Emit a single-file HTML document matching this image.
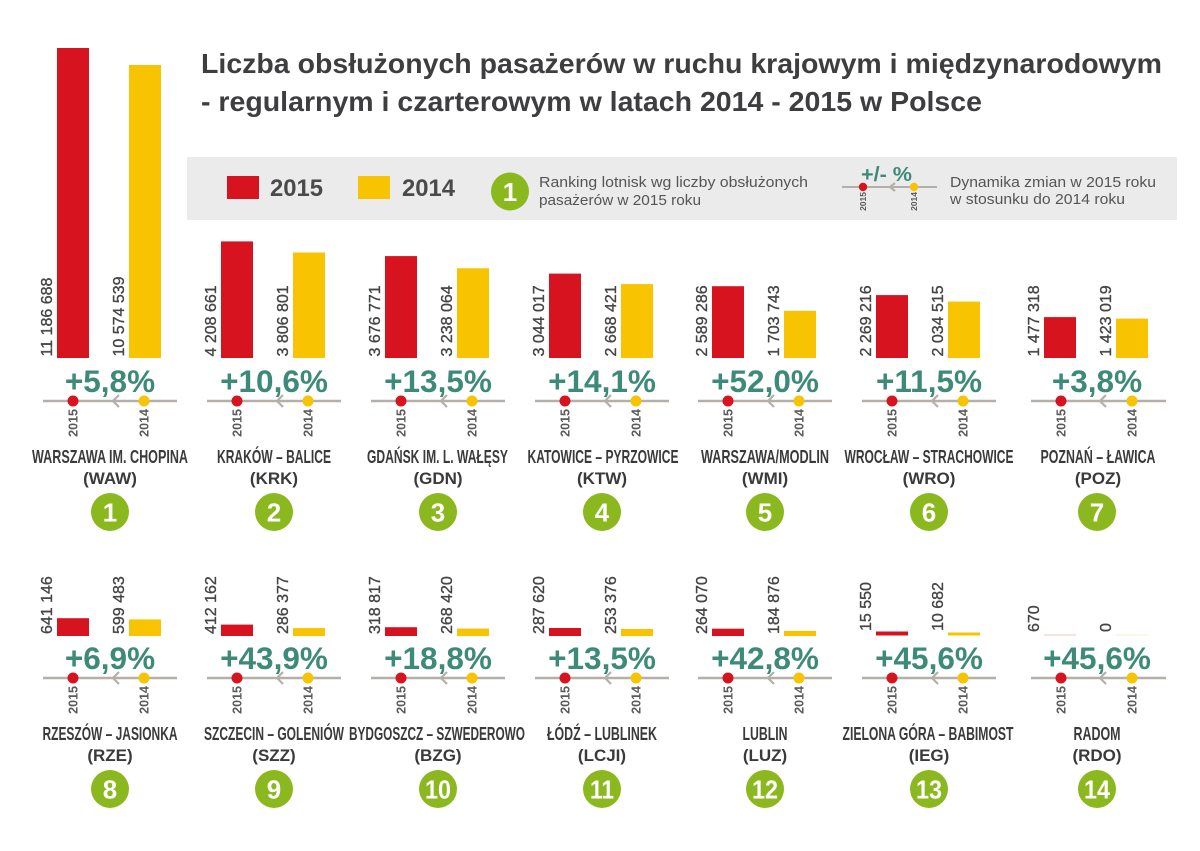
<!DOCTYPE html>
<html><head><meta charset="utf-8"><style>
html,body{margin:0;padding:0;background:#fff;}
svg{display:block;}
text{font-family:"Liberation Sans","Noto Sans CJK SC",sans-serif;}
.ttl{font-size:28px;font-weight:bold;fill:#3e3e41;}
.val{font-size:16px;fill:#454545;stroke:#454545;stroke-width:0.35;}
.pct{font-size:31.5px;font-weight:bold;fill:#3e8a79;text-anchor:middle;}
.yr{font-size:12.5px;font-weight:bold;fill:#5a5a5a;text-anchor:end;}
.nm{font-size:18px;font-weight:bold;fill:#3a3a3a;text-anchor:middle;}
.cd{font-size:17px;font-weight:bold;fill:#3a3a3a;text-anchor:middle;}
.num{font-size:26px;font-weight:bold;fill:#fff;text-anchor:middle;}
.lg{font-size:15px;fill:#555;}
.r{fill:#d7131f;} .y{fill:#f8c300;} .c{fill:#8cb81f;}
.ln{stroke:#b5afa9;stroke-width:2.5;}
.ch{stroke:#b5afa9;stroke-width:2.2;fill:none;stroke-linejoin:miter;}
</style></head><body>
<svg width="1200" height="851" viewBox="0 0 1200 851" xmlns="http://www.w3.org/2000/svg">
<rect width="1200" height="851" fill="#fff"/>
<!-- Title -->
<text class="ttl" x="201" y="73" textLength="961" lengthAdjust="spacingAndGlyphs">Liczba obsłużonych pasażerów w ruchu krajowym i międzynarodowym</text>
<text class="ttl" x="201" y="111" textLength="781" lengthAdjust="spacingAndGlyphs">- regularnym i czarterowym w latach 2014 - 2015 w Polsce</text>

<!-- Legend -->
<rect x="187" y="157" width="990" height="63" fill="#ebebeb"/>
<rect x="227" y="176" width="32" height="23" class="r"/>
<text x="270" y="196" style="font-size:24px;font-weight:bold;fill:#4a4a4a" textLength="53" lengthAdjust="spacingAndGlyphs">2015</text>
<rect x="358" y="176" width="32" height="23" class="y"/>
<text x="402" y="196" style="font-size:24px;font-weight:bold;fill:#4a4a4a" textLength="53" lengthAdjust="spacingAndGlyphs">2014</text>
<circle cx="510" cy="191.5" r="19" class="c"/>
<text class="num" x="510" y="201">1</text>
<text class="lg" x="539" y="187" textLength="269" lengthAdjust="spacingAndGlyphs">Ranking lotnisk wg liczby obsłużonych</text>
<text class="lg" x="539" y="205" textLength="162" lengthAdjust="spacingAndGlyphs">pasażerów w 2015 roku</text>
<text x="861" y="181" style="font-size:20px;font-weight:bold;fill:#3e8a79" textLength="51" lengthAdjust="spacingAndGlyphs">+/- %</text>
<line x1="842" y1="187" x2="937" y2="187" stroke="#b5afa9" stroke-width="2"/>
<polyline class="ch" points="895,183 890,187 895,191"/>
<circle cx="863" cy="187" r="4.2" class="r"/>
<circle cx="914" cy="187" r="4.2" class="y"/>
<text transform="translate(866,192) rotate(-90)" style="font-size:8.5px;font-weight:bold;fill:#5a5a5a;text-anchor:end">2015</text>
<text transform="translate(917,192) rotate(-90)" style="font-size:8.5px;font-weight:bold;fill:#5a5a5a;text-anchor:end">2014</text>
<text class="lg" x="950" y="187" textLength="206" lengthAdjust="spacingAndGlyphs">Dynamika zmian w 2015 roku</text>
<text class="lg" x="950" y="204" textLength="175" lengthAdjust="spacingAndGlyphs">w stosunku do 2014 roku</text>

<!-- ROW 1 -->
<!-- 1 WAW c=110 -->
<rect x="57" y="48" width="32" height="310" class="r"/>
<rect x="129" y="65" width="32" height="293" class="y"/>
<text class="val" transform="translate(52,356.5) rotate(-90)">11 186 688</text>
<text class="val" transform="translate(124,356.5) rotate(-90)">10 574 539</text>
<text class="pct" x="110" y="392">+5,8%</text>
<line class="ln" x1="43" y1="401" x2="177" y2="401"/>
<polyline class="ch" points="119,395 113,401 119,407"/>
<circle cx="73" cy="401" r="5.5" class="r"/><circle cx="144" cy="401" r="5.5" class="y"/>
<text class="yr" transform="translate(77.5,409) rotate(-90)">2015</text>
<text class="yr" transform="translate(148.5,409) rotate(-90)">2014</text>
<text class="nm" x="110" y="463" textLength="156" lengthAdjust="spacingAndGlyphs">WARSZAWA IM. CHOPINA</text>
<text class="cd" x="110" y="484">(WAW)</text>
<circle cx="110" cy="512" r="19" class="c"/><text class="num" x="110" y="521.5">1</text>

<!-- 2 KRK c=274 -->
<rect x="221" y="241.4" width="32" height="116.6" class="r"/>
<rect x="293" y="252.5" width="32" height="105.5" class="y"/>
<text class="val" transform="translate(216,356.5) rotate(-90)">4 208 661</text>
<text class="val" transform="translate(288,356.5) rotate(-90)">3 806 801</text>
<text class="pct" x="274" y="392">+10,6%</text>
<line class="ln" x1="207" y1="401" x2="341" y2="401"/>
<polyline class="ch" points="283,395 277,401 283,407"/>
<circle cx="237" cy="401" r="5.5" class="r"/><circle cx="308" cy="401" r="5.5" class="y"/>
<text class="yr" transform="translate(241.5,409) rotate(-90)">2015</text>
<text class="yr" transform="translate(312.5,409) rotate(-90)">2014</text>
<text class="nm" x="274" y="463" textLength="114" lengthAdjust="spacingAndGlyphs">KRAKÓW – BALICE</text>
<text class="cd" x="274" y="484">(KRK)</text>
<circle cx="274" cy="512" r="19" class="c"/><text class="num" x="274" y="521.5">2</text>

<!-- 3 GDN c=438 -->
<rect x="385" y="256.1" width="32" height="101.9" class="r"/>
<rect x="457" y="268.3" width="32" height="89.7" class="y"/>
<text class="val" transform="translate(380,356.5) rotate(-90)">3 676 771</text>
<text class="val" transform="translate(452,356.5) rotate(-90)">3 238 064</text>
<text class="pct" x="438" y="392">+13,5%</text>
<line class="ln" x1="371" y1="401" x2="505" y2="401"/>
<polyline class="ch" points="447,395 441,401 447,407"/>
<circle cx="401" cy="401" r="5.5" class="r"/><circle cx="472" cy="401" r="5.5" class="y"/>
<text class="yr" transform="translate(405.5,409) rotate(-90)">2015</text>
<text class="yr" transform="translate(476.5,409) rotate(-90)">2014</text>
<text class="nm" x="437.5" y="463" textLength="141" lengthAdjust="spacingAndGlyphs">GDAŃSK IM. L. WAŁĘSY</text>
<text class="cd" x="438" y="484">(GDN)</text>
<circle cx="438" cy="512" r="19" class="c"/><text class="num" x="438" y="521.5">3</text>

<!-- 4 KTW c=602 -->
<rect x="549" y="273.6" width="32" height="84.4" class="r"/>
<rect x="621" y="284.1" width="32" height="73.9" class="y"/>
<text class="val" transform="translate(544,356.5) rotate(-90)">3 044 017</text>
<text class="val" transform="translate(616,356.5) rotate(-90)">2 668 421</text>
<text class="pct" x="602" y="392">+14,1%</text>
<line class="ln" x1="535" y1="401" x2="669" y2="401"/>
<polyline class="ch" points="611,395 605,401 611,407"/>
<circle cx="565" cy="401" r="5.5" class="r"/><circle cx="636" cy="401" r="5.5" class="y"/>
<text class="yr" transform="translate(569.5,409) rotate(-90)">2015</text>
<text class="yr" transform="translate(640.5,409) rotate(-90)">2014</text>
<text class="nm" x="603" y="463" textLength="151" lengthAdjust="spacingAndGlyphs">KATOWICE – PYRZOWICE</text>
<text class="cd" x="602" y="484">(KTW)</text>
<circle cx="602" cy="512" r="19" class="c"/><text class="num" x="602" y="521.5">4</text>

<!-- 5 WMI c=765 -->
<rect x="712" y="286.2" width="32" height="71.8" class="r"/>
<rect x="784" y="310.8" width="32" height="47.2" class="y"/>
<text class="val" transform="translate(707,356.5) rotate(-90)">2 589 286</text>
<text class="val" transform="translate(779,356.5) rotate(-90)">1 703 743</text>
<text class="pct" x="765" y="392">+52,0%</text>
<line class="ln" x1="698" y1="401" x2="832" y2="401"/>
<polyline class="ch" points="774,395 768,401 774,407"/>
<circle cx="728" cy="401" r="5.5" class="r"/><circle cx="799" cy="401" r="5.5" class="y"/>
<text class="yr" transform="translate(732.5,409) rotate(-90)">2015</text>
<text class="yr" transform="translate(803.5,409) rotate(-90)">2014</text>
<text class="nm" x="765" y="463" textLength="128" lengthAdjust="spacingAndGlyphs">WARSZAWA/MODLIN</text>
<text class="cd" x="765" y="484">(WMI)</text>
<circle cx="765" cy="512" r="19" class="c"/><text class="num" x="765" y="521.5">5</text>

<!-- 6 WRO c=929 -->
<rect x="876" y="295.1" width="32" height="62.9" class="r"/>
<rect x="948" y="301.6" width="32" height="56.4" class="y"/>
<text class="val" transform="translate(871,356.5) rotate(-90)">2 269 216</text>
<text class="val" transform="translate(943,356.5) rotate(-90)">2 034 515</text>
<text class="pct" x="929" y="392">+11,5%</text>
<line class="ln" x1="862" y1="401" x2="996" y2="401"/>
<polyline class="ch" points="938,395 932,401 938,407"/>
<circle cx="892" cy="401" r="5.5" class="r"/><circle cx="963" cy="401" r="5.5" class="y"/>
<text class="yr" transform="translate(896.5,409) rotate(-90)">2015</text>
<text class="yr" transform="translate(967.5,409) rotate(-90)">2014</text>
<text class="nm" x="929" y="463" textLength="169" lengthAdjust="spacingAndGlyphs">WROCŁAW – STRACHOWICE</text>
<text class="cd" x="929" y="484">(WRO)</text>
<circle cx="929" cy="512" r="19" class="c"/><text class="num" x="929" y="521.5">6</text>

<!-- 7 POZ c=1097 -->
<rect x="1044" y="317.1" width="32" height="40.9" class="r"/>
<rect x="1116" y="318.6" width="32" height="39.4" class="y"/>
<text class="val" transform="translate(1039,356.5) rotate(-90)">1 477 318</text>
<text class="val" transform="translate(1111,356.5) rotate(-90)">1 423 019</text>
<text class="pct" x="1097" y="392">+3,8%</text>
<line class="ln" x1="1031" y1="401" x2="1166" y2="401"/>
<polyline class="ch" points="1106,395 1100,401 1106,407"/>
<circle cx="1061" cy="401" r="5.5" class="r"/><circle cx="1132" cy="401" r="5.5" class="y"/>
<text class="yr" transform="translate(1065.5,409) rotate(-90)">2015</text>
<text class="yr" transform="translate(1136.5,409) rotate(-90)">2014</text>
<text class="nm" x="1098" y="463" textLength="115" lengthAdjust="spacingAndGlyphs">POZNAŃ – ŁAWICA</text>
<text class="cd" x="1098" y="484">(POZ)</text>
<circle cx="1097" cy="512" r="19" class="c"/><text class="num" x="1097" y="521.5">7</text>

<!-- ROW 2 -->
<!-- 8 RZE c=110 -->
<rect x="57" y="618.2" width="32" height="17.8" class="r"/>
<rect x="129" y="619.4" width="32" height="16.6" class="y"/>
<text class="val" transform="translate(52,634) rotate(-90)">641 146</text>
<text class="val" transform="translate(124,634) rotate(-90)">599 483</text>
<text class="pct" x="110" y="669">+6,9%</text>
<line class="ln" x1="43" y1="678" x2="177" y2="678"/>
<polyline class="ch" points="119,672 113,678 119,684"/>
<circle cx="73" cy="678" r="5.5" class="r"/><circle cx="144" cy="678" r="5.5" class="y"/>
<text class="yr" transform="translate(77.5,686) rotate(-90)">2015</text>
<text class="yr" transform="translate(148.5,686) rotate(-90)">2014</text>
<text class="nm" x="110" y="740" textLength="135" lengthAdjust="spacingAndGlyphs">RZESZÓW – JASIONKA</text>
<text class="cd" x="110" y="761">(RZE)</text>
<circle cx="110" cy="789" r="19" class="c"/><text class="num" x="110" y="798.5">8</text>

<!-- 9 SZZ c=274 -->
<rect x="221" y="624.6" width="32" height="11.4" class="r"/>
<rect x="293" y="628.1" width="32" height="7.9" class="y"/>
<text class="val" transform="translate(216,634) rotate(-90)">412 162</text>
<text class="val" transform="translate(288,634) rotate(-90)">286 377</text>
<text class="pct" x="274" y="669">+43,9%</text>
<line class="ln" x1="207" y1="678" x2="341" y2="678"/>
<polyline class="ch" points="283,672 277,678 283,684"/>
<circle cx="237" cy="678" r="5.5" class="r"/><circle cx="308" cy="678" r="5.5" class="y"/>
<text class="yr" transform="translate(241.5,686) rotate(-90)">2015</text>
<text class="yr" transform="translate(312.5,686) rotate(-90)">2014</text>
<text class="nm" x="274" y="740" textLength="140" lengthAdjust="spacingAndGlyphs">SZCZECIN – GOLENIÓW</text>
<text class="cd" x="274" y="761">(SZZ)</text>
<circle cx="274" cy="789" r="19" class="c"/><text class="num" x="274" y="798.5">9</text>

<!-- 10 BZG c=438 -->
<rect x="385" y="627.2" width="32" height="8.8" class="r"/>
<rect x="457" y="628.6" width="32" height="7.4" class="y"/>
<text class="val" transform="translate(380,634) rotate(-90)">318 817</text>
<text class="val" transform="translate(452,634) rotate(-90)">268 420</text>
<text class="pct" x="438" y="669">+18,8%</text>
<line class="ln" x1="371" y1="678" x2="505" y2="678"/>
<polyline class="ch" points="447,672 441,678 447,684"/>
<circle cx="401" cy="678" r="5.5" class="r"/><circle cx="472" cy="678" r="5.5" class="y"/>
<text class="yr" transform="translate(405.5,686) rotate(-90)">2015</text>
<text class="yr" transform="translate(476.5,686) rotate(-90)">2014</text>
<text class="nm" x="437" y="740" textLength="176" lengthAdjust="spacingAndGlyphs">BYDGOSZCZ – SZWEDEROWO</text>
<text class="cd" x="438" y="761">(BZG)</text>
<circle cx="438" cy="789" r="19" class="c"/><text class="num" x="438" y="798.5" textLength="26" lengthAdjust="spacingAndGlyphs">10</text>

<!-- 11 LCJI c=602 -->
<rect x="549" y="628" width="32" height="8" class="r"/>
<rect x="621" y="629" width="32" height="7" class="y"/>
<text class="val" transform="translate(544,634) rotate(-90)">287 620</text>
<text class="val" transform="translate(616,634) rotate(-90)">253 376</text>
<text class="pct" x="602" y="669">+13,5%</text>
<line class="ln" x1="535" y1="678" x2="669" y2="678"/>
<polyline class="ch" points="611,672 605,678 611,684"/>
<circle cx="565" cy="678" r="5.5" class="r"/><circle cx="636" cy="678" r="5.5" class="y"/>
<text class="yr" transform="translate(569.5,686) rotate(-90)">2015</text>
<text class="yr" transform="translate(640.5,686) rotate(-90)">2014</text>
<text class="nm" x="602" y="740" textLength="110" lengthAdjust="spacingAndGlyphs">ŁÓDŹ – LUBLINEK</text>
<text class="cd" x="602" y="761">(LCJI)</text>
<circle cx="602" cy="789" r="19" class="c"/><text class="num" x="602" y="798.5" textLength="24" lengthAdjust="spacingAndGlyphs">11</text>

<!-- 12 LUZ c=765 -->
<rect x="712" y="628.7" width="32" height="7.3" class="r"/>
<rect x="784" y="630.9" width="32" height="5.1" class="y"/>
<text class="val" transform="translate(707,634) rotate(-90)">264 070</text>
<text class="val" transform="translate(779,634) rotate(-90)">184 876</text>
<text class="pct" x="765" y="669">+42,8%</text>
<line class="ln" x1="698" y1="678" x2="832" y2="678"/>
<polyline class="ch" points="774,672 768,678 774,684"/>
<circle cx="728" cy="678" r="5.5" class="r"/><circle cx="799" cy="678" r="5.5" class="y"/>
<text class="yr" transform="translate(732.5,686) rotate(-90)">2015</text>
<text class="yr" transform="translate(803.5,686) rotate(-90)">2014</text>
<text class="nm" x="765" y="740" textLength="45" lengthAdjust="spacingAndGlyphs">LUBLIN</text>
<text class="cd" x="765" y="761">(LUZ)</text>
<circle cx="765" cy="789" r="19" class="c"/><text class="num" x="765" y="798.5" textLength="26" lengthAdjust="spacingAndGlyphs">12</text>

<!-- 13 IEG c=929 -->
<rect x="876" y="631.5" width="32" height="4" class="r"/>
<rect x="948" y="632.5" width="32" height="3" class="y"/>
<text class="val" transform="translate(871,631) rotate(-90)">15 550</text>
<text class="val" transform="translate(943,631) rotate(-90)">10 682</text>
<text class="pct" x="929" y="669">+45,6%</text>
<line class="ln" x1="862" y1="678" x2="996" y2="678"/>
<polyline class="ch" points="938,672 932,678 938,684"/>
<circle cx="892" cy="678" r="5.5" class="r"/><circle cx="963" cy="678" r="5.5" class="y"/>
<text class="yr" transform="translate(896.5,686) rotate(-90)">2015</text>
<text class="yr" transform="translate(967.5,686) rotate(-90)">2014</text>
<text class="nm" x="928" y="740" textLength="171" lengthAdjust="spacingAndGlyphs">ZIELONA GÓRA – BABIMOST</text>
<text class="cd" x="929" y="761">(IEG)</text>
<circle cx="929" cy="789" r="19" class="c"/><text class="num" x="929" y="798.5" textLength="26" lengthAdjust="spacingAndGlyphs">13</text>

<!-- 14 RDO c=1097 -->
<rect x="1044" y="634.5" width="32" height="1" fill="#f2c4c4"/>
<rect x="1116" y="634.5" width="32" height="1" fill="#f7edcf"/>
<text class="val" transform="translate(1039,632) rotate(-90)">670</text>
<text class="val" transform="translate(1111,632) rotate(-90)">0</text>
<text class="pct" x="1097" y="669">+45,6%</text>
<line class="ln" x1="1031" y1="678" x2="1166" y2="678"/>
<polyline class="ch" points="1106,672 1100,678 1106,684"/>
<circle cx="1061" cy="678" r="5.5" class="r"/><circle cx="1132" cy="678" r="5.5" class="y"/>
<text class="yr" transform="translate(1065.5,686) rotate(-90)">2015</text>
<text class="yr" transform="translate(1136.5,686) rotate(-90)">2014</text>
<text class="nm" x="1097" y="740" textLength="47" lengthAdjust="spacingAndGlyphs">RADOM</text>
<text class="cd" x="1097" y="761">(RDO)</text>
<circle cx="1097" cy="789" r="19" class="c"/><text class="num" x="1097" y="798.5" textLength="26" lengthAdjust="spacingAndGlyphs">14</text>
</svg>
</body></html>
